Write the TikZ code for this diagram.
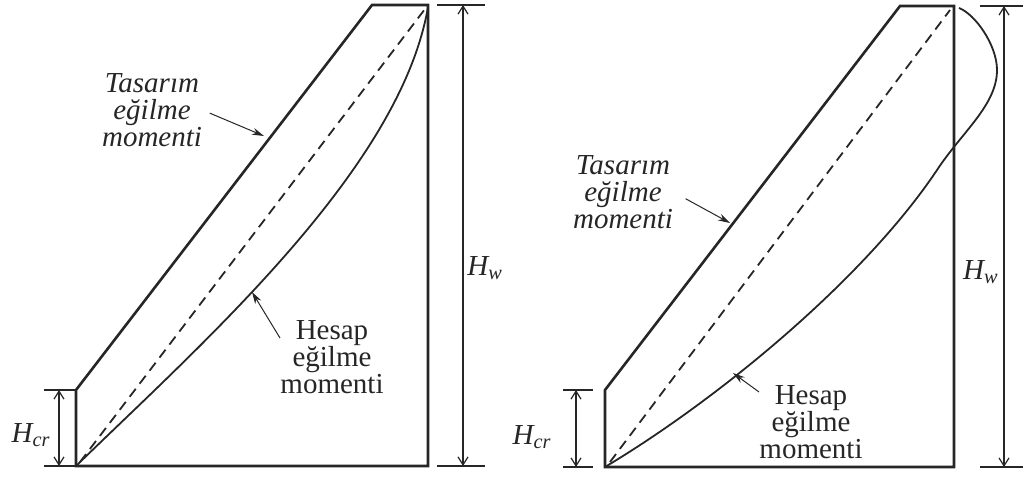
\documentclass[tikz,border=0pt]{standalone}
\usepackage{fontspec}
\setmainfont{Liberation Serif}
\usepackage{tikz}
\usetikzlibrary{arrows.meta}
\definecolor{Ink}{HTML}{262626}

\tikzset{
  outline/.style={Ink, line width=1.3pt},
  moment/.style={Ink, line width=0.9pt},
  chord/.style={Ink, line width=0.9pt, dash pattern=on 5pt off 3.2pt},
  dimline/.style={Ink, line width=0.6pt},
  dimarrow/.style={Ink, line width=0.6pt, {Straight Barb[length=4pt,width=5pt]}-{Straight Barb[length=4pt,width=5pt]}},
  pointer/.style={Ink, line width=0.5pt, -{Stealth[length=6pt,width=3.5pt]}},
  lbl/.style={Ink, align=center, inner sep=0pt, font=\fontsize{14.5}{13.5}\selectfont},
  dimlbl/.style={Ink, inner sep=0pt, font=\fontsize{14.5}{14}\selectfont\itshape}
}

\begin{document}
\begin{tikzpicture}[x=0.5pt, y=-0.5pt]
  \useasboundingbox (0,0) rectangle (1023,477);
  % left wall
  \coordinate (L0) at (76,466);
  \coordinate (L1) at (76,390);
  \coordinate (L2) at (372,5);
  \coordinate (L3) at (428,5);
  \coordinate (L4) at (428,466);
  \draw[outline] (L1) -- (L0) -- (L4) -- (L3) -- (L2) -- cycle;
  \draw[chord] (80,462) -- (425,9);
  \draw[moment] (L0) .. controls (200,345) and (400,170) .. (428,7);
  \draw[dimline] (44,390) -- (L1) (44,466) -- (L0);
  \draw[dimarrow] (59,390) -- (59,466);
  \node[dimlbl] (hcrL) at (31,435) {H\textsubscript{cr}};
  \draw[dimline] (437,5) -- (485,5) (437,466) -- (485,466);
  \draw[dimarrow] (463,5) -- (463,466);
  \node[dimlbl, anchor=west] (hwL) at (467,268) {H\textsubscript{w}};
  \node[lbl, font=\fontsize{14.5}{13.5}\selectfont\itshape] (tasL) at (152,110) {Tasarım\\eğilme\\momenti};
  \coordinate (tipTL) at (264,136);
  \draw[pointer, shorten <=4pt] (tasL.east) -- (tipTL);
  \node[lbl] (hesL) at (332,357) {Hesap\\eğilme\\momenti};
  \coordinate (tipHL) at (252,292);
  \draw[pointer] (hesL.160) -- (tipHL);
  % right wall
  \coordinate (R0) at (605,467);
  \coordinate (R1) at (605,390);
  \coordinate (R2) at (900,6);
  \coordinate (R3) at (954,6);
  \coordinate (R4) at (954,467);
  \draw[outline] (R1) -- (R0) -- (R4) -- (R3) -- (R2) -- cycle;
  \draw[chord] (610,462) -- (950,10);
  \draw[moment] (R0) .. controls (725,395) and (867,275) .. (937,170)
    .. controls (962,132) and (997,105) .. (997,70)
    .. controls (997,45) and (975,14) .. (959,8);
  \draw[dimline] (563,390) -- (593,390) (563,467) -- (593,467);
  \draw[dimarrow] (576,390) -- (576,467);
  \node[dimlbl] (hcrR) at (532,437) {H\textsubscript{cr}};
  \draw[dimline] (980,6) -- (1023,6) (980,467) -- (1023,467);
  \draw[dimarrow] (1004,6) -- (1004,467);
  \node[dimlbl, anchor=east] (hwR) at (999,272) {H\textsubscript{w}};
  \node[lbl, font=\fontsize{14.5}{13.5}\selectfont\itshape] (tasR) at (623,192) {Tasarım\\eğilme\\momenti};
  \coordinate (tipTR) at (730,223);
  \draw[pointer, shorten <=7pt] (tasR.east) -- (tipTR);
  \node[lbl] (hesR) at (811,422) {Hesap\\eğilme\\momenti};
  \coordinate (tipHR) at (733,373);
  \draw[pointer] (hesR.150) -- (tipHR);
\end{tikzpicture}
\end{document}
